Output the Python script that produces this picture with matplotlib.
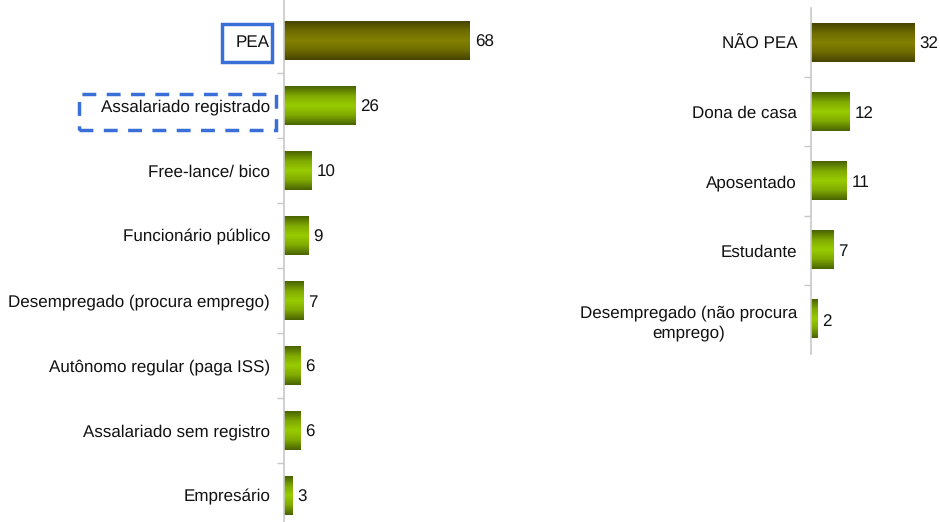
import matplotlib
matplotlib.use("Agg")
import matplotlib.pyplot as plt
import numpy as np
from matplotlib.colors import LinearSegmentedColormap
from matplotlib.patches import Rectangle

plt.rcParams['font.family'] = ['Liberation Sans', 'DejaVu Sans']
plt.rcParams['text.hinting'] = 'no_hinting'
plt.rcParams['text.hinting_factor'] = 1

left_labels = ["PEA", "Assalariado registrado", "Free-lance/ bico", "Funcionário público",
               "Desempregado (procura emprego)", "Autônomo regular (paga ISS)",
               "Assalariado sem registro", "Empresário"]
left_values = [68, 26, 10, 9, 7, 6, 6, 3]

right_labels = ["NÃO PEA", "Dona de casa", "Aposentado", "Estudante",
                "Desempregado (não procura\nemprego)"]
right_values = [32, 12, 11, 7, 2]

W, H = 940, 522
fig = plt.figure(figsize=(W / 100, H / 100), dpi=100)

olive = LinearSegmentedColormap.from_list("olive", ["#474500", "#6e6c00", "#828100", "#6e6c00", "#474500"])
green = LinearSegmentedColormap.from_list("green", ["#4a6400", "#80aa00", "#99cc00", "#80aa00", "#4a6400"])
grad = np.linspace(0, 1, 64).reshape(-1, 1)
FS = 12

def draw(ax, labels, values, xmax, height, ylim):
    n = len(labels)
    y = np.arange(n)
    bars = ax.barh(y, values, height=height, color="none", edgecolor="none")
    for i, (b, v) in enumerate(zip(bars, values)):
        x0, y0 = b.get_x(), b.get_y()
        w, h = b.get_width(), b.get_height()
        cmap = olive if i == 0 else green
        ax.imshow(grad, cmap=cmap, aspect="auto", extent=(x0, x0 + w, y0 + h, y0),
                  interpolation="bilinear", zorder=2)
        ax.annotate(str(v), (x0 + w, y0 + h / 2), xytext=(3.5, 0), textcoords="offset points",
                    ha="left", va="center_baseline", fontsize=FS, color="#111111")
    ax.set_ylim(*ylim)
    ax.set_xlim(0, xmax)
    ax.set_yticks(y)
    ax.set_yticklabels(labels, fontsize=FS, color="#111111", ha="right")
    ax.set_yticks(np.arange(n - 1) + 0.5, minor=True)
    ax.tick_params(axis="y", which="major", length=0, pad=10)
    ax.tick_params(axis="y", which="minor", length=5, color="#c8c8c8", width=1)
    for lab in ax.get_yticklabels():
        lab.set_multialignment("center")
        lab.set_linespacing(1.3)
    ax.set_xticks([])
    for s in ["top", "right", "bottom"]:
        ax.spines[s].set_visible(False)
    ax.spines["left"].set_color("#c8c8c8")
    ax.spines["left"].set_linewidth(1.2)

# left axes spans full figure height; category pitch 65 px, first centre at 40.5 px
axL = fig.add_axes([284 / W, 0, 240 / W, 1])
draw(axL, left_labels, left_values, 240 / 2.735, 0.585,
     ((H - 40.5) / 65, -40.5 / 65))

axR = fig.add_axes([811 / W, (H - 354) / H, 129 / W, 346 / H])
draw(axR, right_labels, right_values, 129 / 3.22, 0.55, (4.5, -0.5))

def px_rect(x0, y0, x1, y1, **kw):
    r = Rectangle((x0 / W, 1 - y1 / H), (x1 - x0) / W, (y1 - y0) / H,
                  transform=fig.transFigure, fill=False, **kw)
    fig.add_artist(r)

px_rect(222, 24, 272, 62, edgecolor="#3a6fd8", linewidth=2.5)
px_rect(79, 94, 276, 130, edgecolor="#3a6fd8", linewidth=2.5, linestyle=(0, (4, 3)))

fig.savefig("out.png", dpi=100)
